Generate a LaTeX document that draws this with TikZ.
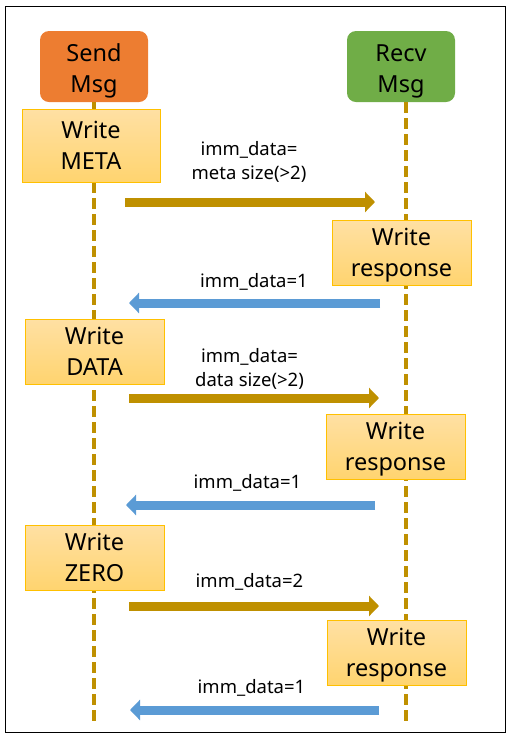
\documentclass[tikz,border=0pt]{standalone}
\usepackage{fontspec}
\setmainfont{Noto Sans}
\usetikzlibrary{arrows.meta}

\definecolor{sndorange}{HTML}{ED7D31}
\definecolor{rcvgreen}{HTML}{70AD47}
\definecolor{gold}{HTML}{BF9000}
\definecolor{ackblue}{HTML}{5B9BD5}
\definecolor{boxtop}{HTML}{FFE0A3}
\definecolor{boxbot}{HTML}{FFD46F}
\definecolor{boxline}{HTML}{FFC000}

\begin{document}
\begin{tikzpicture}[x=1pt,y=-1pt,
    head/.style={rounded corners=9pt, minimum width=108pt, minimum height=71pt, inner sep=0pt, text height=55pt, text depth=3.5pt, align=center, font=\fontsize{23.5}{31}\selectfont},
    wbox/.style={draw=boxline, line width=1pt, top color=boxtop, bottom color=boxbot, minimum width=139pt, minimum height=65pt, inner sep=0pt, text height=51pt, text depth=4pt, align=center, font=\fontsize{23.5}{31}\selectfont},
    life/.style={draw=gold, line width=4pt, dash pattern=on 10.7pt off 5.3pt},
    req/.style={draw=gold, line width=9pt, -{Triangle[length=10pt,width=20pt]}},
    ack/.style={draw=ackblue, line width=9pt, -{Triangle[length=10pt,width=20pt]}},
    lbl/.style={inner sep=0pt, align=center, font=\fontsize{18.5}{24}\selectfont}]
    \useasboundingbox (0,0) rectangle (513,740);
    \draw[line width=1.5pt] (5.5,6.5) rectangle (505.5,732.5);

    % the two sides
    \node[head, fill=sndorange] (snd) at (94,66.5) {Send\\Msg};
    \node[head, fill=rcvgreen] (rcv) at (401,66.5) {Recv\\Msg};
    \coordinate (sndend) at (94,722);
    \coordinate (rcvend) at (406,722);
    \draw[life] (snd.south) -- (sndend);
    \draw[life] (rcv.south -| rcvend) -- (rcvend);

    % writes
    \node[wbox, minimum width=138pt, minimum height=73pt] (meta) at (91,146) {Write\\META};
    \node[wbox] (rsp1) at (401.5,253) {Write\\response};
    \node[wbox] (data) at (94.5,351.5) {Write\\DATA};
    \node[wbox] (rsp2) at (395.5,447) {Write\\response};
    \node[wbox] (zero) at (94.5,557.5) {Write\\ZERO};
    \node[wbox] (rsp3) at (396.5,653) {Write\\response};

    % messages
    \coordinate (m1a) at (125,202);  \coordinate (m1b) at (375,202);
    \coordinate (m2a) at (380,303);  \coordinate (m2b) at (129,303);
    \coordinate (m3a) at (129,398);  \coordinate (m3b) at (379,398);
    \coordinate (m4a) at (375,505);  \coordinate (m4b) at (126,505);
    \coordinate (m5a) at (129,606);  \coordinate (m5b) at (379,606);
    \coordinate (m6a) at (379,710);  \coordinate (m6b) at (130,710);
    \draw[req] (m1a) -- (m1b);
    \draw[ack] (m2a) -- (m2b);
    \draw[req] (m3a) -- (m3b);
    \draw[ack] (m4a) -- (m4b);
    \draw[req] (m5a) -- (m5b);
    \draw[ack] (m6a) -- (m6b);

    \node[lbl] (l1) at (249,162) {imm\_data=\\meta size(>2)};
    \node[lbl] (l2) at (254,282) {imm\_data=1};
    \node[lbl] (l3) at (249.5,369) {imm\_data=\\data size(>2)};
    \node[lbl] (l4) at (247.5,483) {imm\_data=1};
    \node[lbl] (l5) at (249.5,582) {imm\_data=2};
    \node[lbl] (l6) at (251.5,688) {imm\_data=1};
\end{tikzpicture}
\end{document}
